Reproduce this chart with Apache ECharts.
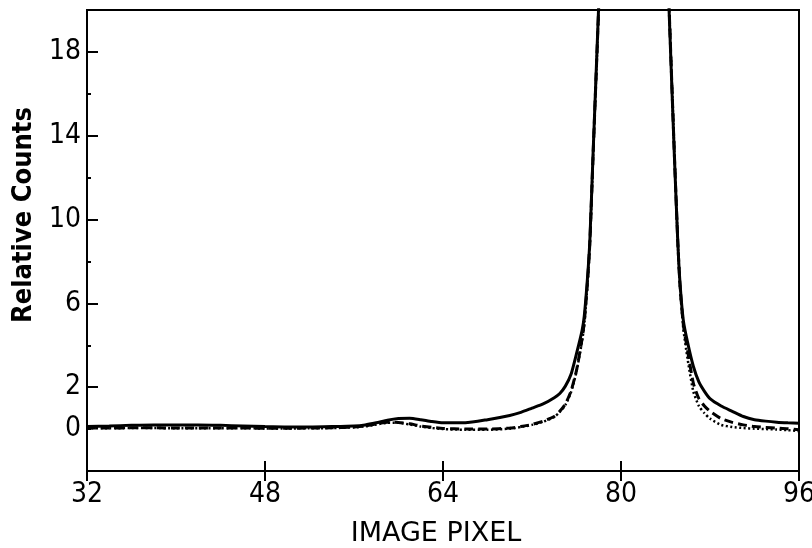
<!DOCTYPE html>
<html>
<head>
<meta charset="utf-8">
<script src="https://cdn.jsdelivr.net/npm/echarts@6/dist/echarts.min.js"></script>
<style>
html,body{margin:0;padding:0;background:#fff;}
#chart{width:812px;height:548px;}
</style>
</head>
<body>
<div id="chart"></div>
<script>
// Image pixel positions (x) shared by the three profiles
const xs = [32,34,36,38,40,42,44,46,48,50,52,54,56,57,58,59,60,61,62,63,64,66,68,70,71,72,73,74,74.5,75,75.5,76,76.5,76.7,77,77.2,77.5,78,78.5,79,83.5,84,84.3,84.8,85.1,85.3,85.6,86,86.5,87,87.5,88,89,90,91,92,93,94,95,96];
// Solid profile
const solidVals = [0.12,0.15,0.18,0.2,0.2,0.2,0.18,0.15,0.12,0.1,
  0.1,0.12,0.15,0.2,0.3,0.42,0.5,0.52,0.45,0.36,
  0.3,0.3,0.45,0.65,0.8,1.0,1.2,1.5,1.7,2.05,
  2.6,3.6,4.7,5.4,7.3,9.0,13.3,20.3,28,36,
  36,24.8,20.3,13.0,9.0,7.0,5.2,4.1,3.0,2.25,
  1.8,1.45,1.1,0.85,0.6,0.45,0.38,0.33,0.3,0.28];
// Dashed profile
const dashedVals = [0.05,0.05,0.06,0.06,0.05,0.05,0.05,0.05,0.04,0.04,
  0.05,0.06,0.1,0.15,0.25,0.33,0.32,0.25,0.15,0.08,
  0.03,0.0,0.0,0.05,0.12,0.22,0.38,0.6,0.85,1.2,
  1.8,2.8,4.3,5.1,7.1,8.9,13.2,20.2,28,36,
  36,25,20.5,13.1,9.0,6.9,5.0,3.7,2.2,1.45,
  1.1,0.85,0.5,0.32,0.2,0.12,0.08,0.05,0.02,-0.03];
// Dotted profile
const dottedVals = [0.04,0.04,0.05,0.05,0.04,0.04,0.04,0.04,0.03,0.03,
  0.04,0.05,0.08,0.13,0.22,0.3,0.3,0.22,0.12,0.05,
  0.0,-0.03,-0.03,0.02,0.1,0.2,0.35,0.58,0.82,1.15,
  1.75,2.75,4.2,5.0,7.0,8.8,13.1,20.1,28,36,
  36,25.2,20.6,13.2,9.0,6.8,4.8,3.3,1.8,1.1,
  0.76,0.5,0.2,0.1,0.05,0.02,0.0,-0.02,-0.05,-0.1];
const yLabelValues = [0,2,6,10,14,18];
const xTitle = 'IMAGE PIXEL';
const yTitle = 'Relative Counts';

const pair = vals => xs.map((x, i) => [x, vals[i]]);
const labelFont = {color:'#000', fontFamily:"'Liberation Sans Narrow','DejaVu Sans Condensed',sans-serif", fontSize:28};

const chart = echarts.init(document.getElementById('chart'), null, {renderer:'canvas'});
const option = {
  animation:false,
  backgroundColor:'#fff',
  grid:{left:87, right:13, top:10, bottom:77, show:true, borderColor:'#000', borderWidth:2, containLabel:false, outerBoundsMode:'none'},
  xAxis:[
    {type:'value', min:32, max:96, interval:16, position:'bottom',
     axisLine:{show:true, onZero:false, lineStyle:{color:'#000', width:2}},
     axisTick:{show:true, inside:false, length:10, lineStyle:{color:'#000', width:2}},
     axisLabel:{...labelFont, margin:10},
     splitLine:{show:false}},
    {type:'value', min:32, max:96, interval:16, position:'bottom',
     axisLine:{show:false, onZero:false},
     axisTick:{show:true, inside:true, length:10, lineStyle:{color:'#000', width:2}},
     axisLabel:{show:false}, splitLine:{show:false}}
  ],
  yAxis:[
    {type:'value', min:-2, max:20, interval:4, position:'left',
     axisLine:{show:true, onZero:false, lineStyle:{color:'#000', width:2}},
     axisTick:{show:true, inside:true, length:11, lineStyle:{color:'#000', width:2}},
     axisLabel:{...labelFont, margin:6, formatter:v => yLabelValues.includes(v) ? String(v) : ''},
     splitLine:{show:false}},
    {type:'value', min:-2, max:20, interval:2, position:'left',
     axisLine:{show:false, onZero:false},
     axisTick:{show:true, inside:true, length:4, lineStyle:{color:'#000', width:2}},
     axisLabel:{...labelFont, margin:6, formatter:v => v === 0 ? '0' : ''},
     splitLine:{show:false}}
  ],
  series:[
    {type:'line', name:'solid', data:pair(solidVals), symbol:'none', smooth:0.2, clip:true,
     lineStyle:{color:'#000', width:3, type:'solid'}},
    {type:'line', name:'dashed', data:pair(dashedVals), symbol:'none', smooth:0.2, clip:true,
     lineStyle:{color:'#000', width:3, type:[9,5]}},
    {type:'line', name:'dotted', data:pair(dottedVals), symbol:'none', smooth:0.2, clip:true,
     lineStyle:{color:'#000', width:2.5, type:[2,2.5]}}
  ],
  graphic:[
    {type:'text', x:24, y:215, rotation:Math.PI/2,
     style:{text:yTitle, fill:'#000', font:"bold 27px 'DejaVu Sans Condensed','DejaVu Sans',sans-serif", align:'center', verticalAlign:'middle'}},
    {type:'text', x:436, y:534,
     style:{text:xTitle, fill:'#000', font:"27px 'DejaVu Sans',sans-serif", align:'center', verticalAlign:'middle'}}
  ]
};
chart.setOption(option);
</script>
</body>
</html>
